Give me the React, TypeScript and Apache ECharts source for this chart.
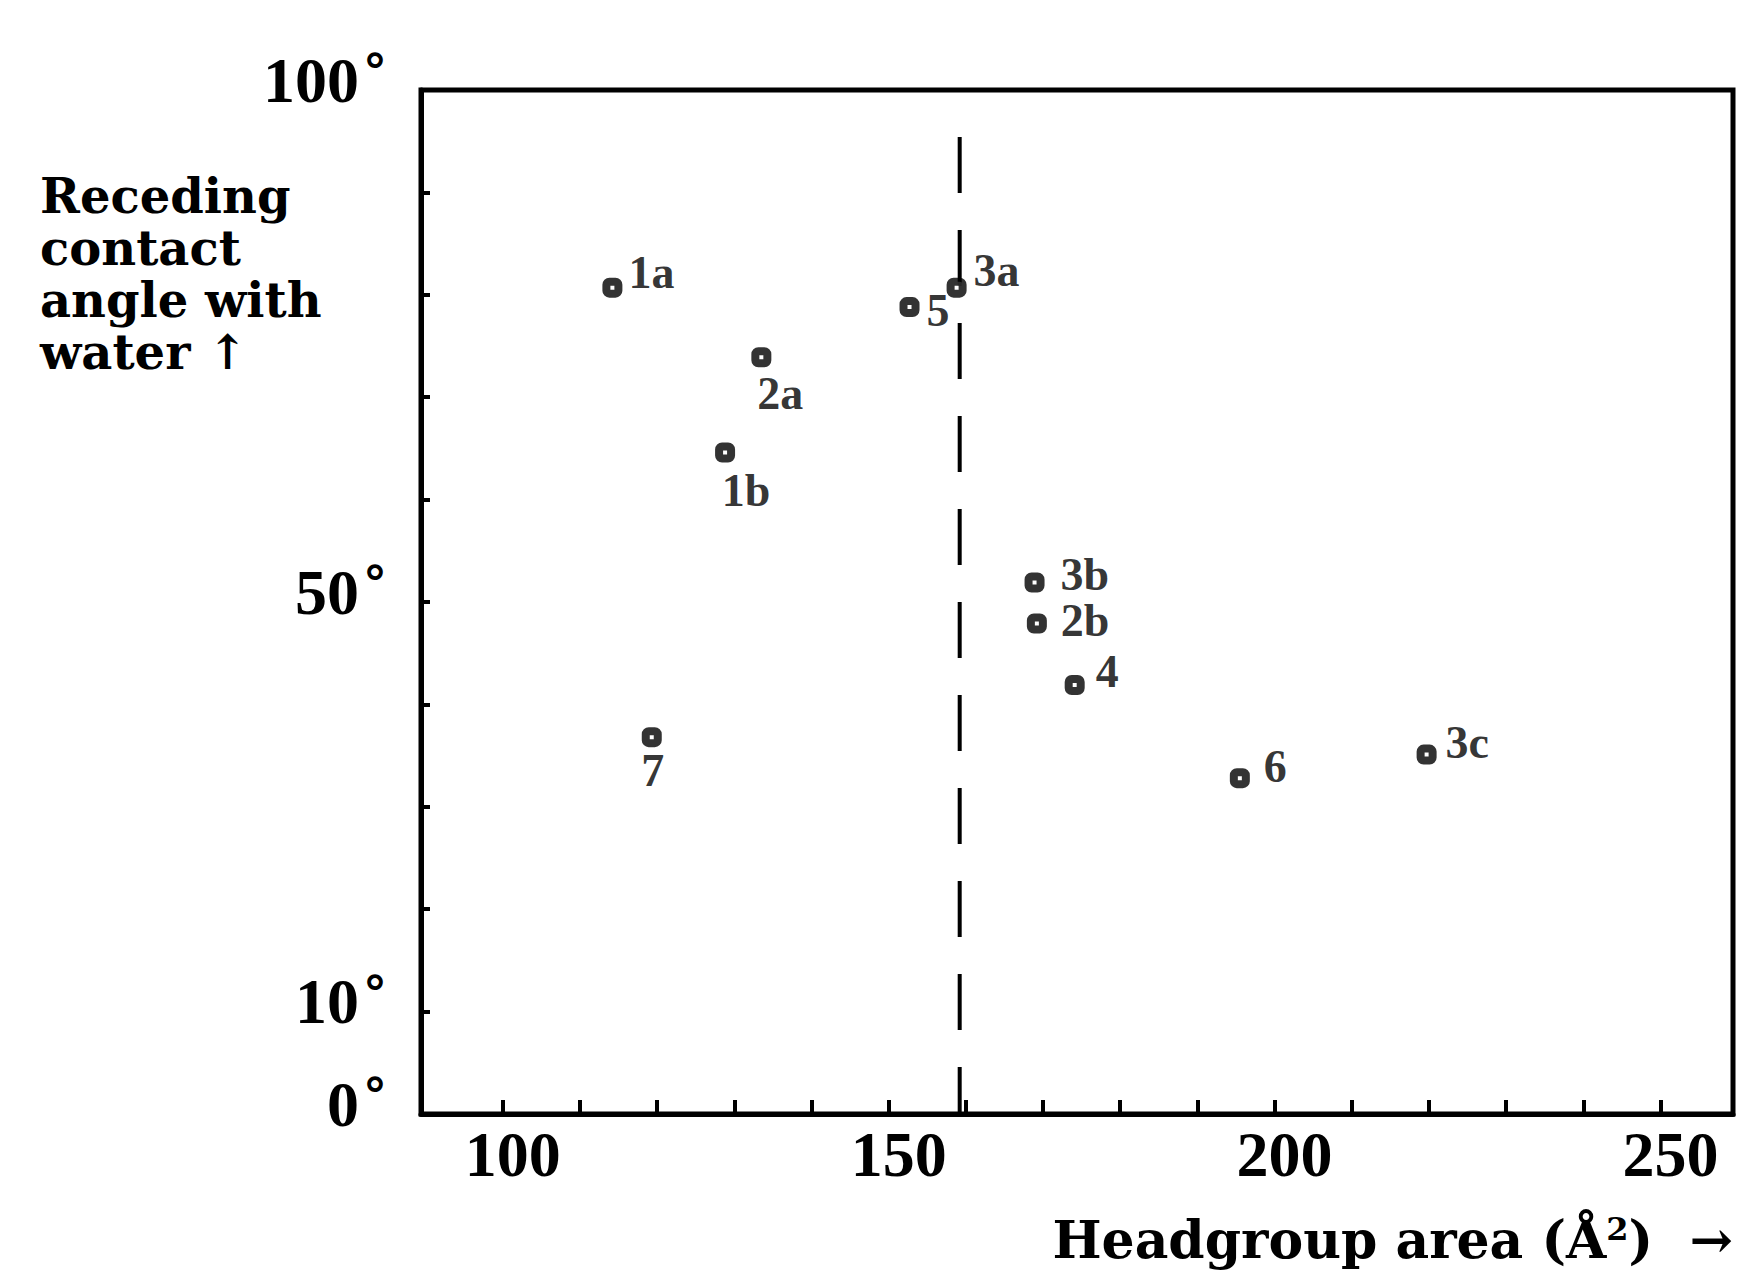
import React, { useEffect, useRef } from "react";
import * as echarts from "echarts";

// ---- data ----
const compounds = ["1a", "5", "3a", "2a", "1b", "7", "3b", "2b", "4", "6", "3c"];
const headgroupArea = [114.2, 152.7, 158.8, 133.5, 128.8, 119.3, 168.9, 169.2, 174.1, 195.5, 219.7];
const recedingAngle = [80.7, 78.8, 80.7, 73.9, 64.6, 36.8, 51.9, 47.9, 41.9, 32.8, 35.1];

const xTicks = [100, 110, 120, 130, 140, 150, 160, 170, 180, 190, 200, 210, 220, 230, 240, 250];
const xTickLabels = [100, 150, 200, 250];
const yTickLabels = [0, 10, 50, 100];

const dividerArea = [159.2, 159.2];
const dividerAngle = [95.4, 0];

// ---- label placement (style only) ----
const labelPlacement: Record<string, { pos: string; dx: number; dy: number }> = {
  "1a": { pos: "right", dx: 6, dy: -15 },
  "5": { pos: "right", dx: 7, dy: 3 },
  "3a": { pos: "right", dx: 7, dy: -17 },
  "2a": { pos: "inside", dx: 19, dy: 36 },
  "1b": { pos: "inside", dx: 21, dy: 38 },
  "7": { pos: "inside", dx: 1, dy: 33 },
  "3b": { pos: "right", dx: 16, dy: -8 },
  "2b": { pos: "right", dx: 14, dy: -3 },
  "4": { pos: "right", dx: 11, dy: -13 },
  "6": { pos: "right", dx: 14, dy: -12 },
  "3c": { pos: "right", dx: 9, dy: -12 },
};

const SERIF = "'Liberation Serif', 'Times New Roman', serif";
const SERIF2 = "'DejaVu Serif', serif";

export default function App() {
  const ref = useRef<HTMLDivElement>(null);

  useEffect(() => {
    if (!ref.current) return;
    const chart = echarts.init(ref.current, null, { renderer: "svg" });

    const points = compounds.map((name, i) => {
      const p = labelPlacement[name];
      return {
        name,
        value: [headgroupArea[i], recedingAngle[i]],
        label: {
          show: true,
          position: p.pos,
          distance: 0,
          offset: [p.dx, p.dy],
          formatter: name,
          color: "#000",
          textBorderWidth: 0,
          fontFamily: SERIF,
          fontWeight: "bold",
          fontSize: 46,
        },
      };
    });

    const option: any = {
      animation: false,
      backgroundColor: "#ffffff",
      grid: {
        left: 421,
        right: 4,
        top: 90,
        bottom: 158,
        show: true,
        borderColor: "#000",
        borderWidth: 5,
        backgroundColor: "transparent",
      },
      xAxis: {
        type: "value",
        min: 89.4,
        max: 259.4,
        axisLine: { show: true, onZero: false, lineStyle: { color: "#000", width: 5 } },
        axisTick: {
          show: true,
          inside: true,
          length: 14,
          customValues: xTicks,
          lineStyle: { color: "#000", width: 4 },
        },
        axisLabel: {
          show: true,
          customValues: xTickLabels,
          margin: 8,
          padding: [0, 0, 0, 20],
          color: "#000",
          fontFamily: SERIF,
          fontWeight: "bold",
          fontSize: 64,
        },
        splitLine: { show: false },
      },
      yAxis: {
        type: "value",
        min: 0,
        max: 100,
        interval: 10,
        axisLine: { show: true, onZero: false, lineStyle: { color: "#000", width: 5 } },
        axisTick: {
          show: true,
          inside: true,
          length: 9,
          lineStyle: { color: "#000", width: 4 },
        },
        axisLabel: {
          show: true,
          customValues: yTickLabels,
          margin: 34,
          padding: [0, 0, 20, 0],
          formatter: (v: number) => `{n|${v}}{d|°}`,
          rich: {
            n: {
              fontFamily: SERIF,
              fontWeight: "bold",
              fontSize: 64,
              color: "#000",
            },
            d: {
              fontFamily: SERIF2,
              fontWeight: "bold",
              fontSize: 48,
              color: "#000",
              verticalAlign: "top",
              padding: [0, 0, 0, 4],
            },
          },
        },
        splitLine: { show: false },
      },
      series: [
        {
          type: "line",
          data: dividerArea.map((x, i) => [x, dividerAngle[i]]),
          symbol: "none",
          silent: true,
          lineStyle: { color: "#000", width: 4, type: [56, 37] },
          z: 1,
        },
        {
          type: "scatter",
          data: points,
          symbol: "roundRect",
          symbolSize: 12,
          itemStyle: { color: "#fff", borderColor: "#000", borderWidth: 8 },
          z: 3,
        },
      ],
      graphic: [
        {
          type: "text",
          left: 40,
          top: 170,
          style: {
            text: "Receding\ncontact\nangle with\nwater ↑",
            fontFamily: SERIF2,
            fontWeight: "bold",
            fontSize: 48,
            lineHeight: 52,
            fill: "#000",
          },
        },
        {
          type: "text",
          right: 4,
          top: 1213,
          style: {
            text: "Headgroup area (Å{s|2})  →",
            fontFamily: SERIF2,
            fontWeight: "bold",
            fontSize: 52,
            fill: "#000",
            rich: {
              s: {
                fontFamily: SERIF2,
                fontWeight: "bold",
                fontSize: 32,
                verticalAlign: "top",
                fill: "#000",
              },
            },
          },
        },
      ],
    };

    chart.setOption(option);
    return () => chart.dispose();
  }, []);

  return (
    <div
      ref={ref}
      style={{ position: "absolute", left: 0, top: 0, width: 1737, height: 1272, background: "#fff" }}
    />
  );
}
